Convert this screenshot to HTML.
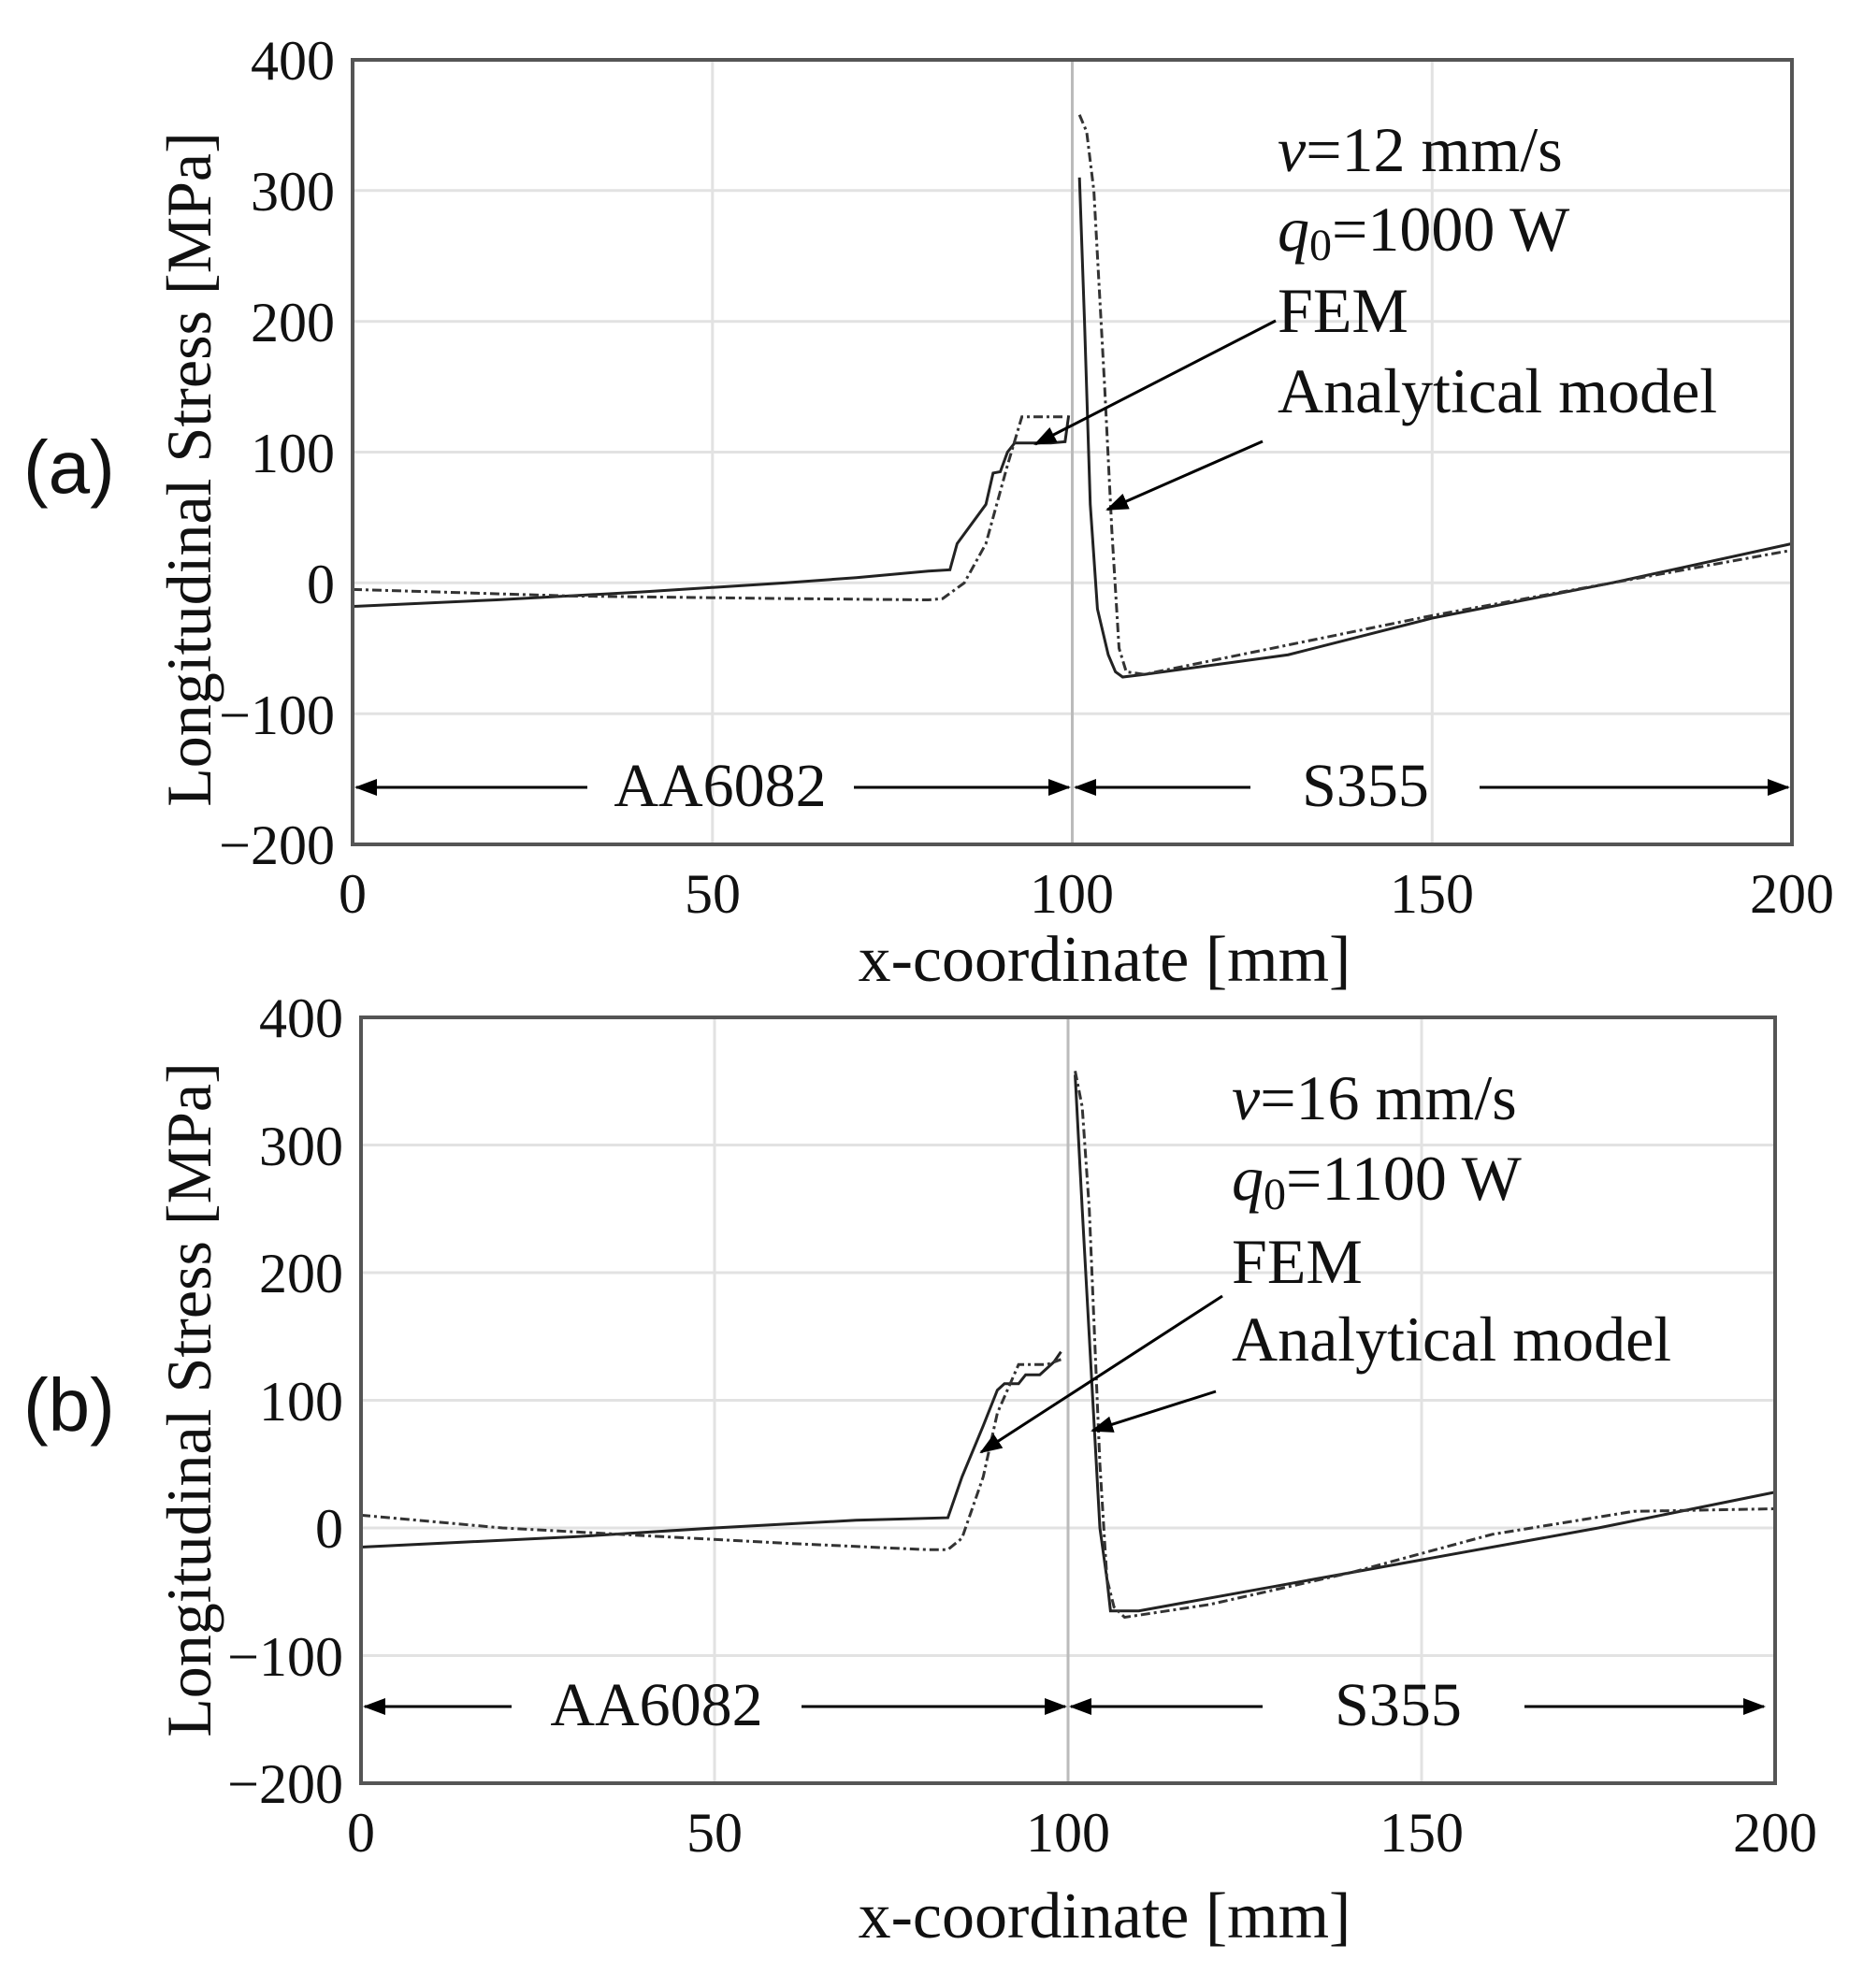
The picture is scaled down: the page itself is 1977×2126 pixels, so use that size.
<!DOCTYPE html>
<html><head><meta charset="utf-8"><style>
html,body{margin:0;padding:0;background:#fff;}
svg{display:block;}
text{font-family:"Liberation Serif",serif;fill:#111;}
</style></head><body>
<svg width="1977" height="2126" viewBox="0 0 1977 2126" xmlns="http://www.w3.org/2000/svg">
<defs>
<marker id="ah2" markerWidth="24" markerHeight="18" refX="22" refY="9" orient="auto" markerUnits="userSpaceOnUse"><path d="M0,0 L24,9 L0,18 z" fill="#000"/></marker>
</defs>

<!-- ================= PLOT A ================= -->
<g stroke="#e2e2e2" stroke-width="3">
<line x1="377" y1="203.8" x2="1916" y2="203.8"/><line x1="377" y1="343.7" x2="1916" y2="343.7"/>
<line x1="377" y1="483.5" x2="1916" y2="483.5"/><line x1="377" y1="623.3" x2="1916" y2="623.3"/>
<line x1="377" y1="763.2" x2="1916" y2="763.2"/>
<line x1="761.8" y1="64" x2="761.8" y2="903"/><line x1="1146.5" y1="64" x2="1146.5" y2="903"/><line x1="1531.3" y1="64" x2="1531.3" y2="903"/>
</g>
<line x1="1146.5" y1="64" x2="1146.5" y2="903" stroke="#bbb" stroke-width="3"/>
<svg x="377" y="64" width="1539" height="839" viewBox="0 -400 200 600" preserveAspectRatio="none" overflow="visible">
<polyline fill="none" stroke="#222" stroke-width="3" vector-effect="non-scaling-stroke" points="0,18 20,13 40,7 60,0 70,-4 80,-9 83,-10 84,-30 88,-60 89,-84 90,-85 91,-100 92,-107 97,-107 99,-108 99.5,-128"/>
<polyline fill="none" stroke="#222" stroke-width="3" vector-effect="non-scaling-stroke" points="101,-310 101.7,-200 102.5,-60 103.5,20 105,55 106,68 107,72 110,70 130,55 150,27 175,0 200,-30"/>
<polyline fill="none" stroke="#333" stroke-width="3" stroke-dasharray="10,4,3,4" vector-effect="non-scaling-stroke" points="0,5 30,10 60,12 80,13 82,12 85,0 88,-30 91,-90 93,-127 99,-127"/>
<polyline fill="none" stroke="#333" stroke-width="3" stroke-dasharray="10,4,3,4" vector-effect="non-scaling-stroke" points="101,-358 102,-345 103,-300 104.5,-150 105.5,-40 106.5,50 107.5,68 110,70 150,25 200,-25"/>
</svg>
<rect x="377" y="64" width="1539" height="839" fill="none" stroke="#555" stroke-width="4"/>
<g font-size="60" text-anchor="end">
<text x="358" y="85">400</text><text x="358" y="225">300</text><text x="358" y="365">200</text>
<text x="358" y="505">100</text><text x="358" y="645">0</text><text x="358" y="785">−100</text><text x="358" y="924">−200</text>
</g>
<g font-size="60" text-anchor="middle">
<text x="377" y="976">0</text><text x="762" y="976">50</text><text x="1146" y="976">100</text><text x="1531" y="976">150</text><text x="1916" y="976">200</text>
<text x="1181" y="1049" font-size="70">x-coordinate [mm]</text>
<text transform="translate(225,502) rotate(-90)" font-size="68">Longitudinal Stress [MPa]</text>
</g>
<text x="25" y="527" font-size="80" style="font-family:'Liberation Sans',sans-serif">(a)</text>
<g font-size="68">
<text x="1366" y="183"><tspan font-style="italic">v</tspan>=12 mm/s</text>
<text x="1366" y="268"><tspan font-style="italic">q</tspan><tspan font-size="48" dy="10">0</tspan><tspan dy="-10">=1000 W</tspan></text>
<text x="1366" y="355">FEM</text>
<text x="1366" y="441">Analytical model</text>
</g>
<line x1="1364" y1="343" x2="1107" y2="475" stroke="#000" stroke-width="3" marker-end="url(#ah2)"/>
<line x1="1350" y1="472" x2="1184" y2="545" stroke="#000" stroke-width="3" marker-end="url(#ah2)"/>
<g stroke="#000" stroke-width="3">
<line x1="628" y1="842" x2="381" y2="842" marker-end="url(#ah2)"/>
<line x1="913" y1="842" x2="1143" y2="842" marker-end="url(#ah2)"/>
<line x1="1337" y1="842" x2="1150" y2="842" marker-end="url(#ah2)"/>
<line x1="1582" y1="842" x2="1912" y2="842" marker-end="url(#ah2)"/>
</g>
<g font-size="66" text-anchor="middle"><text x="770" y="862">AA6082</text><text x="1460" y="862">S355</text></g>

<!-- ================= PLOT B ================= -->
<g stroke="#e2e2e2" stroke-width="3">
<line x1="386" y1="1224.5" x2="1898" y2="1224.5"/><line x1="386" y1="1361" x2="1898" y2="1361"/>
<line x1="386" y1="1497.5" x2="1898" y2="1497.5"/><line x1="386" y1="1634" x2="1898" y2="1634"/>
<line x1="386" y1="1770.5" x2="1898" y2="1770.5"/>
<line x1="764" y1="1088" x2="764" y2="1907"/><line x1="1142" y1="1088" x2="1142" y2="1907"/><line x1="1520" y1="1088" x2="1520" y2="1907"/>
</g>
<line x1="1142" y1="1088" x2="1142" y2="1907" stroke="#bbb" stroke-width="3"/>
<svg x="386" y="1088" width="1512" height="819" viewBox="0 -400 200 600" preserveAspectRatio="none" overflow="visible">
<polyline fill="none" stroke="#222" stroke-width="3" vector-effect="non-scaling-stroke" points="0,15 30,7 50,0 70,-6 83,-8 85,-40 88,-80 90,-108 91,-113 93,-113 94,-120 96,-120 98,-130 99,-138"/>
<polyline fill="none" stroke="#222" stroke-width="3" vector-effect="non-scaling-stroke" points="101,-355 102,-250 103,-150 104.5,0 105.5,40 106,65 110,65 130,45 150,25 175,0 200,-28"/>
<polyline fill="none" stroke="#333" stroke-width="3" stroke-dasharray="10,4,3,4" vector-effect="non-scaling-stroke" points="0,-10 20,0 40,6 60,12 80,17 83,17 85,8 88,-40 90,-90 93,-128 97,-128 99,-132"/>
<polyline fill="none" stroke="#333" stroke-width="3" stroke-dasharray="10,4,3,4" vector-effect="non-scaling-stroke" points="101,-358 102,-330 103,-250 104.5,-50 105.5,40 106.5,62 108,70 120,60 140,35 160,5 180,-13 200,-15"/>
</svg>
<rect x="386" y="1088" width="1512" height="819" fill="none" stroke="#555" stroke-width="4"/>
<g font-size="60" text-anchor="end">
<text x="367" y="1109">400</text><text x="367" y="1246">300</text><text x="367" y="1382">200</text>
<text x="367" y="1519">100</text><text x="367" y="1655">0</text><text x="367" y="1792">−100</text><text x="367" y="1928">−200</text>
</g>
<g font-size="60" text-anchor="middle">
<text x="386" y="1980">0</text><text x="764" y="1980">50</text><text x="1142" y="1980">100</text><text x="1520" y="1980">150</text><text x="1898" y="1980">200</text>
<text x="1181" y="2072" font-size="70">x-coordinate [mm]</text>
<text transform="translate(225,1497) rotate(-90)" font-size="68">Longitudinal Stress [MPa]</text>
</g>
<text x="25" y="1530" font-size="80" style="font-family:'Liberation Sans',sans-serif">(b)</text>
<g font-size="68">
<text x="1317" y="1197"><tspan font-style="italic">v</tspan>=16 mm/s</text>
<text x="1317" y="1283"><tspan font-style="italic">q</tspan><tspan font-size="48" dy="10">0</tspan><tspan dy="-10">=1100 W</tspan></text>
<text x="1317" y="1372">FEM</text>
<text x="1317" y="1455">Analytical model</text>
</g>
<line x1="1307" y1="1386" x2="1049" y2="1553" stroke="#000" stroke-width="3" marker-end="url(#ah2)"/>
<line x1="1300" y1="1488" x2="1168" y2="1530" stroke="#000" stroke-width="3" marker-end="url(#ah2)"/>
<g stroke="#000" stroke-width="3">
<line x1="547" y1="1825" x2="390" y2="1825" marker-end="url(#ah2)"/>
<line x1="857" y1="1825" x2="1139" y2="1825" marker-end="url(#ah2)"/>
<line x1="1350" y1="1825" x2="1145" y2="1825" marker-end="url(#ah2)"/>
<line x1="1630" y1="1825" x2="1886" y2="1825" marker-end="url(#ah2)"/>
</g>
<g font-size="66" text-anchor="middle"><text x="702" y="1845">AA6082</text><text x="1495" y="1845">S355</text></g>
</svg>
</body></html>
